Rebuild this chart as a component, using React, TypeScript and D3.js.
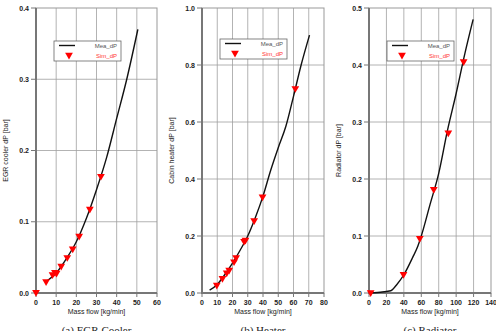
import React from "react";
import * as d3 from "d3";

// Panel (a) EGR Cooler
const egrMeaX = [5, 10, 15, 20, 25, 30, 35, 40, 45, 50.5];
const egrMeaY = [0.016, 0.028, 0.048, 0.072, 0.105, 0.145, 0.19, 0.245, 0.3, 0.37];
const egrSimX = [0, 5, 8.2, 9.4, 10.2, 12.5, 15.5, 18.2, 21.4, 26.7, 32.2];
const egrSimY = [0.001, 0.016, 0.026, 0.029, 0.028, 0.038, 0.05, 0.062, 0.08, 0.118, 0.164];

// Panel (b) Heater
const heatMeaX = [5, 10, 15, 20, 25, 30, 35, 40, 45, 50, 55, 60, 65, 70.5];
const heatMeaY = [0.01, 0.03, 0.065, 0.105, 0.15, 0.2, 0.265, 0.34, 0.43, 0.51, 0.585, 0.69, 0.8, 0.905];
const heatSimX = [9.7, 13.4, 16.2, 17.8, 21, 22.4, 27.6, 28.5, 34.2, 39.7, 61.2];
const heatSimY = [0.028, 0.052, 0.071, 0.081, 0.11, 0.125, 0.182, 0.186, 0.254, 0.338, 0.718];

// Panel (c) Radiator
const radMeaX = [0, 10, 25, 32, 40, 50, 56, 60, 70, 80, 90, 100, 110, 119.5];
const radMeaY = [0, 0.001, 0.004, 0.015, 0.032, 0.062, 0.082, 0.1, 0.155, 0.21, 0.285, 0.35, 0.42, 0.48];
const radSimX = [1.9, 39.6, 58.3, 74.3, 91, 108.6];
const radSimY = [0.001, 0.033, 0.096, 0.182, 0.281, 0.406];

const egrXTicks = [0, 10, 20, 30, 40, 50, 60];
const egrYTicks = [0, 0.1, 0.2, 0.3, 0.4];
const heatXTicks = [0, 10, 20, 30, 40, 50, 60, 70, 80];
const heatYTicks = [0, 0.2, 0.4, 0.6, 0.8, 1.0];
const radXTicks = [0, 20, 40, 60, 80, 100, 120, 140];
const radYTicks = [0, 0.1, 0.2, 0.3, 0.4, 0.5];

const yTitles = ["EGR cooler dP [bar]", "Cabin heater dP [bar]", "Radiator dP [bar]"];
const captions = ["(a) EGR Cooler", "(b) Heater", "(c) Radiator"];
const xTitle = "Mass flow [kg/min]";
const legendLabels = ["Mea_dP", "Sim_dP"];

const panels = [
  { left: 36, right: 157, xTicks: egrXTicks, yTicks: egrYTicks, meaX: egrMeaX, meaY: egrMeaY, simX: egrSimX, simY: egrSimY, legX: 54, legY: 41 },
  { left: 202, right: 324, xTicks: heatXTicks, yTicks: heatYTicks, meaX: heatMeaX, meaY: heatMeaY, simX: heatSimX, simY: heatSimY, legX: 220, legY: 39 },
  { left: 369, right: 491, xTicks: radXTicks, yTicks: radYTicks, meaX: radMeaX, meaY: radMeaY, simX: radSimX, simY: radSimY, legX: 387, legY: 41 },
];

const TOP = 8;
const BOTTOM = 293;
const tri = d3.symbol().type(d3.symbolTriangle).size(26)();

function Panel({ p, i }: { p: any; i: number }) {
  const x = d3.scaleLinear().domain([p.xTicks[0], p.xTicks[p.xTicks.length - 1]]).range([p.left, p.right]);
  const y = d3.scaleLinear().domain([p.yTicks[0], p.yTicks[p.yTicks.length - 1]]).range([BOTTOM, TOP]);
  const line = d3
    .line<number>()
    .x((d) => x(d))
    .y((_, k) => y(p.meaY[k]))
    .curve(d3.curveMonotoneX);
  const fmtY = d3.format(".1f");
  return (
    <g>
      {p.xTicks.slice(1, -1).map((t: number) => (
        <line key={"gx" + t} x1={x(t)} x2={x(t)} y1={TOP} y2={BOTTOM} stroke="#a0a0a0" strokeWidth={0.8} />
      ))}
      {p.yTicks.slice(1, -1).map((t: number) => (
        <line key={"gy" + t} x1={p.left} x2={p.right} y1={y(t)} y2={y(t)} stroke="#a0a0a0" strokeWidth={0.8} />
      ))}
      <rect x={p.left} y={TOP} width={p.right - p.left} height={BOTTOM - TOP} fill="none" stroke="#999" strokeWidth={1} />
      <line x1={p.left} x2={p.left} y1={TOP} y2={BOTTOM + 1} stroke="#777" strokeWidth={2} />
      <line x1={p.left - 1} x2={p.right} y1={BOTTOM} y2={BOTTOM} stroke="#777" strokeWidth={2} />
      {p.yTicks.map((t: number) => (
        <g key={"ty" + t}>
          <line x1={p.left - 5} x2={p.left} y1={y(t)} y2={y(t)} stroke="#777" strokeWidth={1} />
          <text x={p.left - 7} y={y(t) + 2.5} textAnchor="end" fontSize={7} fontWeight="bold" fontFamily="Liberation Sans, Arial, sans-serif" fill="#222">
            {fmtY(t)}
          </text>
        </g>
      ))}
      {p.xTicks.map((t: number) => (
        <g key={"tx" + t}>
          <line x1={x(t)} x2={x(t)} y1={BOTTOM} y2={BOTTOM + 4} stroke="#777" strokeWidth={1} />
          <text x={x(t)} y={BOTTOM + 12} textAnchor="middle" fontSize={7} fontWeight="bold" fontFamily="Liberation Sans, Arial, sans-serif" fill="#222">
            {t}
          </text>
        </g>
      ))}
      <text x={(p.left + p.right) / 2} y={BOTTOM + 21} textAnchor="middle" fontSize={7} fontFamily="Liberation Sans, Arial, sans-serif" fill="#222">
        {xTitle}
      </text>
      <text transform={`translate(${p.left - 28},${(TOP + BOTTOM) / 2}) rotate(-90)`} textAnchor="middle" fontSize={7} fontFamily="Liberation Sans, Arial, sans-serif" fill="#222">
        {yTitles[i]}
      </text>
      <path d={line(p.meaX) || ""} fill="none" stroke="#111" strokeWidth={1.4} />
      {p.simX.map((v: number, k: number) => (
        <path key={"s" + k} d={tri} transform={`translate(${x(v)},${y(p.simY[k])}) rotate(180)`} fill="#f00" />
      ))}
      <g transform={`translate(${p.legX},${p.legY})`}>
        <rect x={0} y={0} width={67} height={20} fill="#fff" stroke="#666" strokeWidth={0.8} />
        <line x1={5} x2={21} y1={4.5} y2={4.5} stroke="#111" strokeWidth={1.4} />
        <text x={63} y={7} textAnchor="end" fontSize={6} fontFamily="Liberation Sans, Arial, sans-serif" fill="#555">
          {legendLabels[0]}
        </text>
        <path d={tri} transform="translate(15,14) rotate(180)" fill="#f00" />
        <text x={63} y={16.5} textAnchor="end" fontSize={6} fontFamily="Liberation Sans, Arial, sans-serif" fill="#f33">
          {legendLabels[1]}
        </text>
      </g>
      <text x={(p.left + p.right) / 2} y={334} textAnchor="middle" fontSize={11} fontFamily="Liberation Serif, Times New Roman, serif" fill="#222">
        {captions[i]}
      </text>
    </g>
  );
}

export default function App() {
  return (
    <svg width={496} height={331} style={{ position: "absolute", left: 0, top: 0, background: "#fff" }}>
      <rect width={496} height={331} fill="#fff" />
      {panels.map((p, i) => (
        <Panel key={i} p={p} i={i} />
      ))}
    </svg>
  );
}
